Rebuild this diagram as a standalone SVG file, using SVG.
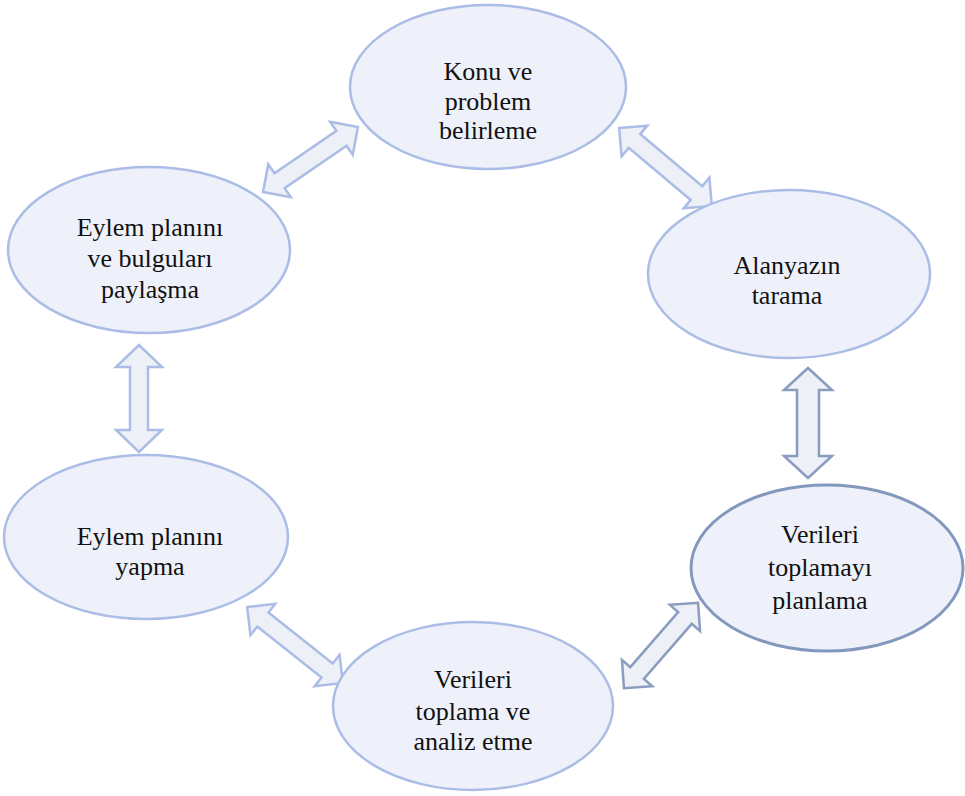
<svg xmlns="http://www.w3.org/2000/svg" width="965" height="796" viewBox="0 0 965 796">
<style>
.node ellipse{fill:#eef1f9;stroke:#abbde6;stroke-width:2.5}
.node.dark ellipse{stroke:#8398bd;stroke-width:3}
.node text{font-family:"Liberation Serif","Times New Roman","DejaVu Serif",serif;font-size:26px;fill:#111;text-anchor:middle}
.conn path{fill:#eef0f7;stroke:#abbde6;stroke-width:2.5;stroke-linejoin:miter}
.conn path.dark{stroke:#8a9cbf}
</style>
<rect width="965" height="796" fill="#ffffff"/>
<g id="connectors" class="conn">
<path transform="translate(310.5,159.5) rotate(-34.4)" d="M-57.5,0 L-37.5,-20 L-37.5,-9 L37.5,-9 L37.5,-20 L57.5,0 L37.5,20 L37.5,9 L-37.5,9 L-37.5,20 Z"/>
<path transform="translate(665.5,167) rotate(40)" d="M-60.5,0 L-40.5,-20 L-40.5,-9 L40.5,-9 L40.5,-20 L60.5,0 L40.5,20 L40.5,9 L-40.5,9 L-40.5,20 Z"/>
<path class="dark" transform="translate(808,423) rotate(90)" d="M-55,0 L-33,-24 L-33,-11 L33,-11 L33,-24 L55,0 L33,24 L33,11 L-33,11 L-33,24 Z"/>
<path transform="translate(139,398.5) rotate(90)" d="M-53.5,0 L-31.5,-23 L-31.5,-9 L31.5,-9 L31.5,-23 L53.5,0 L31.5,23 L31.5,9 L-31.5,9 L-31.5,23 Z"/>
<path class="dark" transform="translate(661,645.5) rotate(-49)" d="M-56.5,0 L-36.5,-20 L-36.5,-9 L36.5,-9 L36.5,-20 L56.5,0 L36.5,20 L36.5,9 L-36.5,9 L-36.5,20 Z"/>
<path transform="translate(295,645) rotate(38.4)" d="M-61,0 L-41,-20 L-41,-9 L41,-9 L41,-20 L61,0 L41,20 L41,9 L-41,9 L-41,20 Z"/>
</g>
<g id="node-konu" class="node">
<ellipse cx="488" cy="87" rx="138" ry="82"/>
<text x="488" y="80">Konu ve</text>
<text x="488" y="110">problem</text>
<text x="488" y="139">belirleme</text>
</g>
<g id="node-alanyazin" class="node">
<ellipse cx="789" cy="274" rx="141" ry="84"/>
<text x="787" y="274">Alanyazın</text>
<text x="787" y="304">tarama</text>
</g>
<g id="node-planlama" class="node dark">
<ellipse cx="827" cy="568" rx="136" ry="83"/>
<text x="820" y="543">Verileri</text>
<text x="820" y="576">toplamayı</text>
<text x="820" y="609">planlama</text>
</g>
<g id="node-analiz" class="node">
<ellipse cx="473" cy="706" rx="140" ry="84"/>
<text x="473" y="688">Verileri</text>
<text x="473" y="720">toplama ve</text>
<text x="473" y="750">analiz etme</text>
</g>
<g id="node-yapma" class="node">
<ellipse cx="146" cy="537" rx="142" ry="82"/>
<text x="150" y="545">Eylem planını</text>
<text x="150" y="575">yapma</text>
</g>
<g id="node-paylasma" class="node">
<ellipse cx="149" cy="250" rx="141" ry="83"/>
<text x="150" y="236">Eylem planını</text>
<text x="150" y="267">ve bulguları</text>
<text x="150" y="298">paylaşma</text>
</g>
</svg>
